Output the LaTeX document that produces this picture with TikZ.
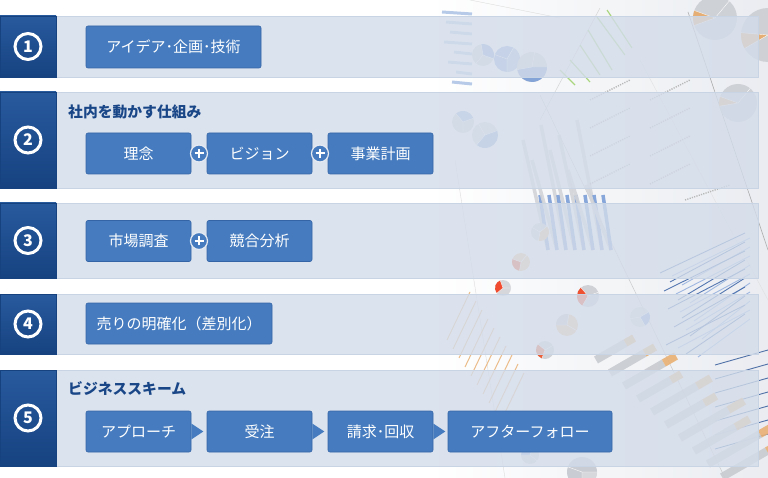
\documentclass[tikz,border=0pt]{standalone}
\usepackage{fontspec}
\newfontfamily\jp{Noto Sans CJK JP}
\usetikzlibrary{calc}
\definecolor{panelc}{RGB}{211,220,234}
\definecolor{panelb}{RGB}{200,211,228}
\definecolor{sqtop}{RGB}{40,90,158}
\definecolor{sqbot}{RGB}{22,66,128}
\definecolor{boxc}{RGB}{70,124,191}
\definecolor{boxb}{RGB}{52,100,166}
\definecolor{titlec}{RGB}{25,70,135}
\definecolor{cblue}{RGB}{80,125,200}
\definecolor{cgray}{RGB}{190,194,200}
\definecolor{corange}{RGB}{225,150,70}
\definecolor{cgreen}{RGB}{140,200,80}
\definecolor{cbg}{RGB}{232,235,240}
\newcommand{\chartpie}[7]{%
  \fill[#4] (#1,#2) circle (#3);
  \fill[#5] (#1,#2) -- ++(#6:#3) arc[start angle=#6, end angle=#7, radius=#3] -- cycle;
  \draw[white, line width=0.4pt] (#1,#2) -- ++(#6:#3) (#1,#2) -- ++(#7:#3) (#1,#2) -- ++(#7+110:#3);}
\tikzset{
  panel/.style={fill=panelc, fill opacity=0.8, draw=panelb, line width=0.8pt},
  numsq/.style={top color=sqtop, bottom color=sqbot, draw=sqbot, line width=0.5pt},
  numc/.style={circle, draw=white, line width=3pt, minimum size=26pt, inner sep=0pt,
    text=white, font=\jp\bfseries\fontsize{16}{16}\selectfont},
  stepbox/.style={rectangle, rounded corners=2pt, fill=boxc, draw=boxb, line width=0.6pt,
    text=white, font=\jp\fontsize{15}{15}\selectfont, minimum height=41pt, inner sep=0pt,
    minimum width=105pt},
  plusc/.style={circle, fill=boxc, draw=panelc!60!white, line width=1.2pt, minimum size=17pt, inner sep=0pt},
  title/.style={anchor=west, text=titlec, font=\jp\bfseries\fontsize{14.8}{14.8}\selectfont, inner sep=0pt},
  tri/.style={fill=boxc}
}
\begin{document}
\begin{tikzpicture}[x=1pt,y=-1pt]
\useasboundingbox (0,0) rectangle (768,478);
\fill[white] (0,0) rectangle (768,478);
% ---------- faint chart collage background ----------
\begin{scope}[opacity=0.9]
\shade[left color=white, right color=cbg] (430,0) rectangle (768,478);
\draw[gray!70, line width=0.6pt] (688,12) -- (768,250);
\draw[gray!45, line width=0.5pt] (540,95) -- (725,478);
\draw[gray!35, line width=0.5pt] (600,8) -- (540,120);
\draw[gray!30, line width=0.4pt] (470,0) -- (560,18);
\draw[gray!30, line width=0.4pt] (455,160) -- (505,478);
\draw[gray!25, line width=0.4pt] (640,60) -- (768,300);
% top-left blue bars
\foreach \i/\l in {0/30,1/26,2/22,3/28,4/18,5/24,6/16,7/20}
  \draw[cblue!45, line width=3pt] (472-\l,12+\i*10) -- (472,14+\i*10);
% blue pies
\chartpie{483}{55}{11}{cgray!70}{cblue!70}{-100}{20}
\chartpie{507}{59}{13}{cblue!70}{cblue!45}{-60}{90}
\chartpie{532}{67}{15}{cgray!70}{cblue!75}{0}{170}
\chartpie{463}{122}{11}{cgray!70}{cblue!60}{-130}{-20}
\chartpie{485}{135}{13}{cgray!60}{cblue!65}{-20}{130}
% green lines
\foreach \a/\b/\c/\d in {597/17/625/55, 588/30/612/70, 580/45/600/75, 570/60/590/82, 607/10/632/48, 560/70/575/85}
  \draw[cgreen!80, line width=1.2pt] (\a,\b) -- (\c,\d);
% top-right gray pies
\chartpie{715}{18}{22}{cgray!80}{corange!80}{160}{200}
\chartpie{768}{35}{27}{cgray!80}{corange!80}{150}{185}
\chartpie{738}{103}{19}{cgray!80}{corange!70}{170}{200}
% vertical gray bars with blue lower parts
\foreach \i/\t in {0/140,1/160,2/125,3/150,4/135,5/170,6/120,7/185}
  {\draw[cgray!70, line width=3.5pt] (523+\i*9,\t) -- (548+\i*9,250);
   \draw[cblue!75, line width=3.5pt] (540+\i*9,195) -- (548+\i*9,250);}
% tiny text-like marks
\foreach \j in {0,1,2,3}
  {\draw[gray!60, line width=1.4pt, dash pattern=on 1.2pt off 1.2pt] (590,100+\j*28) -- (630,80+\j*28);
   \draw[gray!60, line width=1.4pt, dash pattern=on 1.2pt off 1.2pt] (650,100+\j*28) -- (690,80+\j*28);}
\draw[gray!60, line width=1.4pt, dash pattern=on 1.2pt off 1.2pt] (685,200) -- (730,185);
% orange-ish pies
\chartpie{540}{232}{9}{cgray!70}{corange!60}{-40}{100}
\chartpie{521}{262}{9}{corange!55}{red!50!corange}{100}{200}
\chartpie{503}{288}{8}{cgray!70}{red!60!corange}{140}{250}
\chartpie{588}{296}{11}{cgray!80}{red!55!corange}{120}{230}
\chartpie{567}{325}{11}{corange!55}{cgray!80}{180}{280}
\chartpie{545}{350}{9}{cgray!80}{red!45!corange}{110}{220}
\chartpie{640}{317}{10}{cgray!60}{cblue!70}{-30}{60}
\chartpie{530}{455}{9}{cgray!70}{cblue!70}{180}{290}
\chartpie{582}{472}{15}{cgray!90}{cgray!60}{0}{90}
% blue horizontal lines
\foreach \i/\s in {0/0,1/10,2/4,3/18,4/8,5/22,6/14,7/30,8/6,9/26}
  {\draw[cblue!85!black, line width=0.9pt] (660+\s,273+\i*9) -- (745,233+\i*9);
   \draw[cblue!60, line width=0.9pt] (672+\s,276+\i*9) -- (750,238+\i*9);}
\foreach \i in {0,...,6}
  \draw[cblue!80!black, line width=0.9pt] (715,365+\i*14) -- (768,350+\i*14);
% orange thin lines
\foreach \i in {0,...,9}
  \draw[corange!70, line width=1pt] (447+\i*6,340+\i*9) -- (470+\i*6,292+\i*9);
% gray/orange bars
\foreach \i/\l/\o in {0/34/10,1/40/12,2/46/14,3/38/12,4/52/16,5/44/14,6/56/18,7/48/16,8/60/20,9/52/18}
  {\draw[cgray!85, line width=8pt] (596+\i*14,360+\i*13) -- ++(-30:\l);
   \draw[corange!75, line width=8pt] ($(596+\i*14,360+\i*13)+(-30:\l)$) -- ++(-30:\o);}
\end{scope}
% ---------- panels ----------
\path[panel] (0,16) rectangle (758,77);
\path[panel] (0,92) rectangle (758,188);
\path[panel] (0,203) rectangle (758,278);
\path[panel] (0,294) rectangle (758,354);
\path[panel] (0,370) rectangle (758,466);
\path[numsq] (0,16) rectangle (56,77);
\path[numsq] (0,92) rectangle (56,188);
\path[numsq] (0,203) rectangle (56,278);
\path[numsq] (0,294) rectangle (56,354);
\path[numsq] (0,370) rectangle (56,466);
\node[numc] (n1) at (28,46.5) {1};
\node[numc] (n2) at (28,140) {2};
\node[numc] (n3) at (28,240.5) {3};
\node[numc] (n4) at (28,324) {4};
\node[numc] (n5) at (28,418) {5};
% ---------- row 1 ----------
\node[stepbox, minimum width=175pt, minimum height=42pt] (a1) at (173.5,47) {アイデア･企画･技術};
% ---------- row 2 ----------
\node[title] (t2) at (68,111.5) {社内を動かす仕組み};
\node[stepbox] (b1) at (138.5,153.5) {理念};
\node[stepbox] (b2) at (259.5,153.5) {ビジョン};
\node[stepbox] (b3) at (380.5,153.5) {事業計画};
\node[plusc] (p1) at ($(b1.east)!0.5!(b2.west)$) {};
\node[plusc] (p2) at ($(b2.east)!0.5!(b3.west)$) {};
\foreach \p in {p1,p2}
  \draw[white, line width=2pt] ([xshift=-4.5pt]\p.center) -- ([xshift=4.5pt]\p.center)
    ([yshift=-4.5pt]\p.center) -- ([yshift=4.5pt]\p.center);
% ---------- row 3 ----------
\node[stepbox] (c1) at (138.5,241) {市場調査};
\node[stepbox] (c2) at (259.5,241) {競合分析};
\node[plusc] (p3) at ($(c1.east)!0.5!(c2.west)$) {};
\draw[white, line width=2pt] ([xshift=-4.5pt]p3.center) -- ([xshift=4.5pt]p3.center)
    ([yshift=-4.5pt]p3.center) -- ([yshift=4.5pt]p3.center);
% ---------- row 4 ----------
\node[stepbox, minimum width=186pt] (d1) at (179,323.5) {売りの明確化（差別化）};
% ---------- row 5 ----------
\node[title] (t5) at (68,389) {ビジネススキーム};
\node[stepbox] (e1) at (138.5,431.5) {アプローチ};
\node[stepbox] (e2) at (259.5,431.5) {受注};
\node[stepbox] (e3) at (380.5,431.5) {請求･回収};
\node[stepbox, minimum width=164pt] (e4) at (530,431.5) {アフターフォロー};
\foreach \s in {e1,e2,e3}
  \fill[tri] ([yshift=8pt]\s.east) -- ([xshift=12pt]\s.east) -- ([yshift=-8pt]\s.east) -- cycle;
\end{tikzpicture}
\end{document}
